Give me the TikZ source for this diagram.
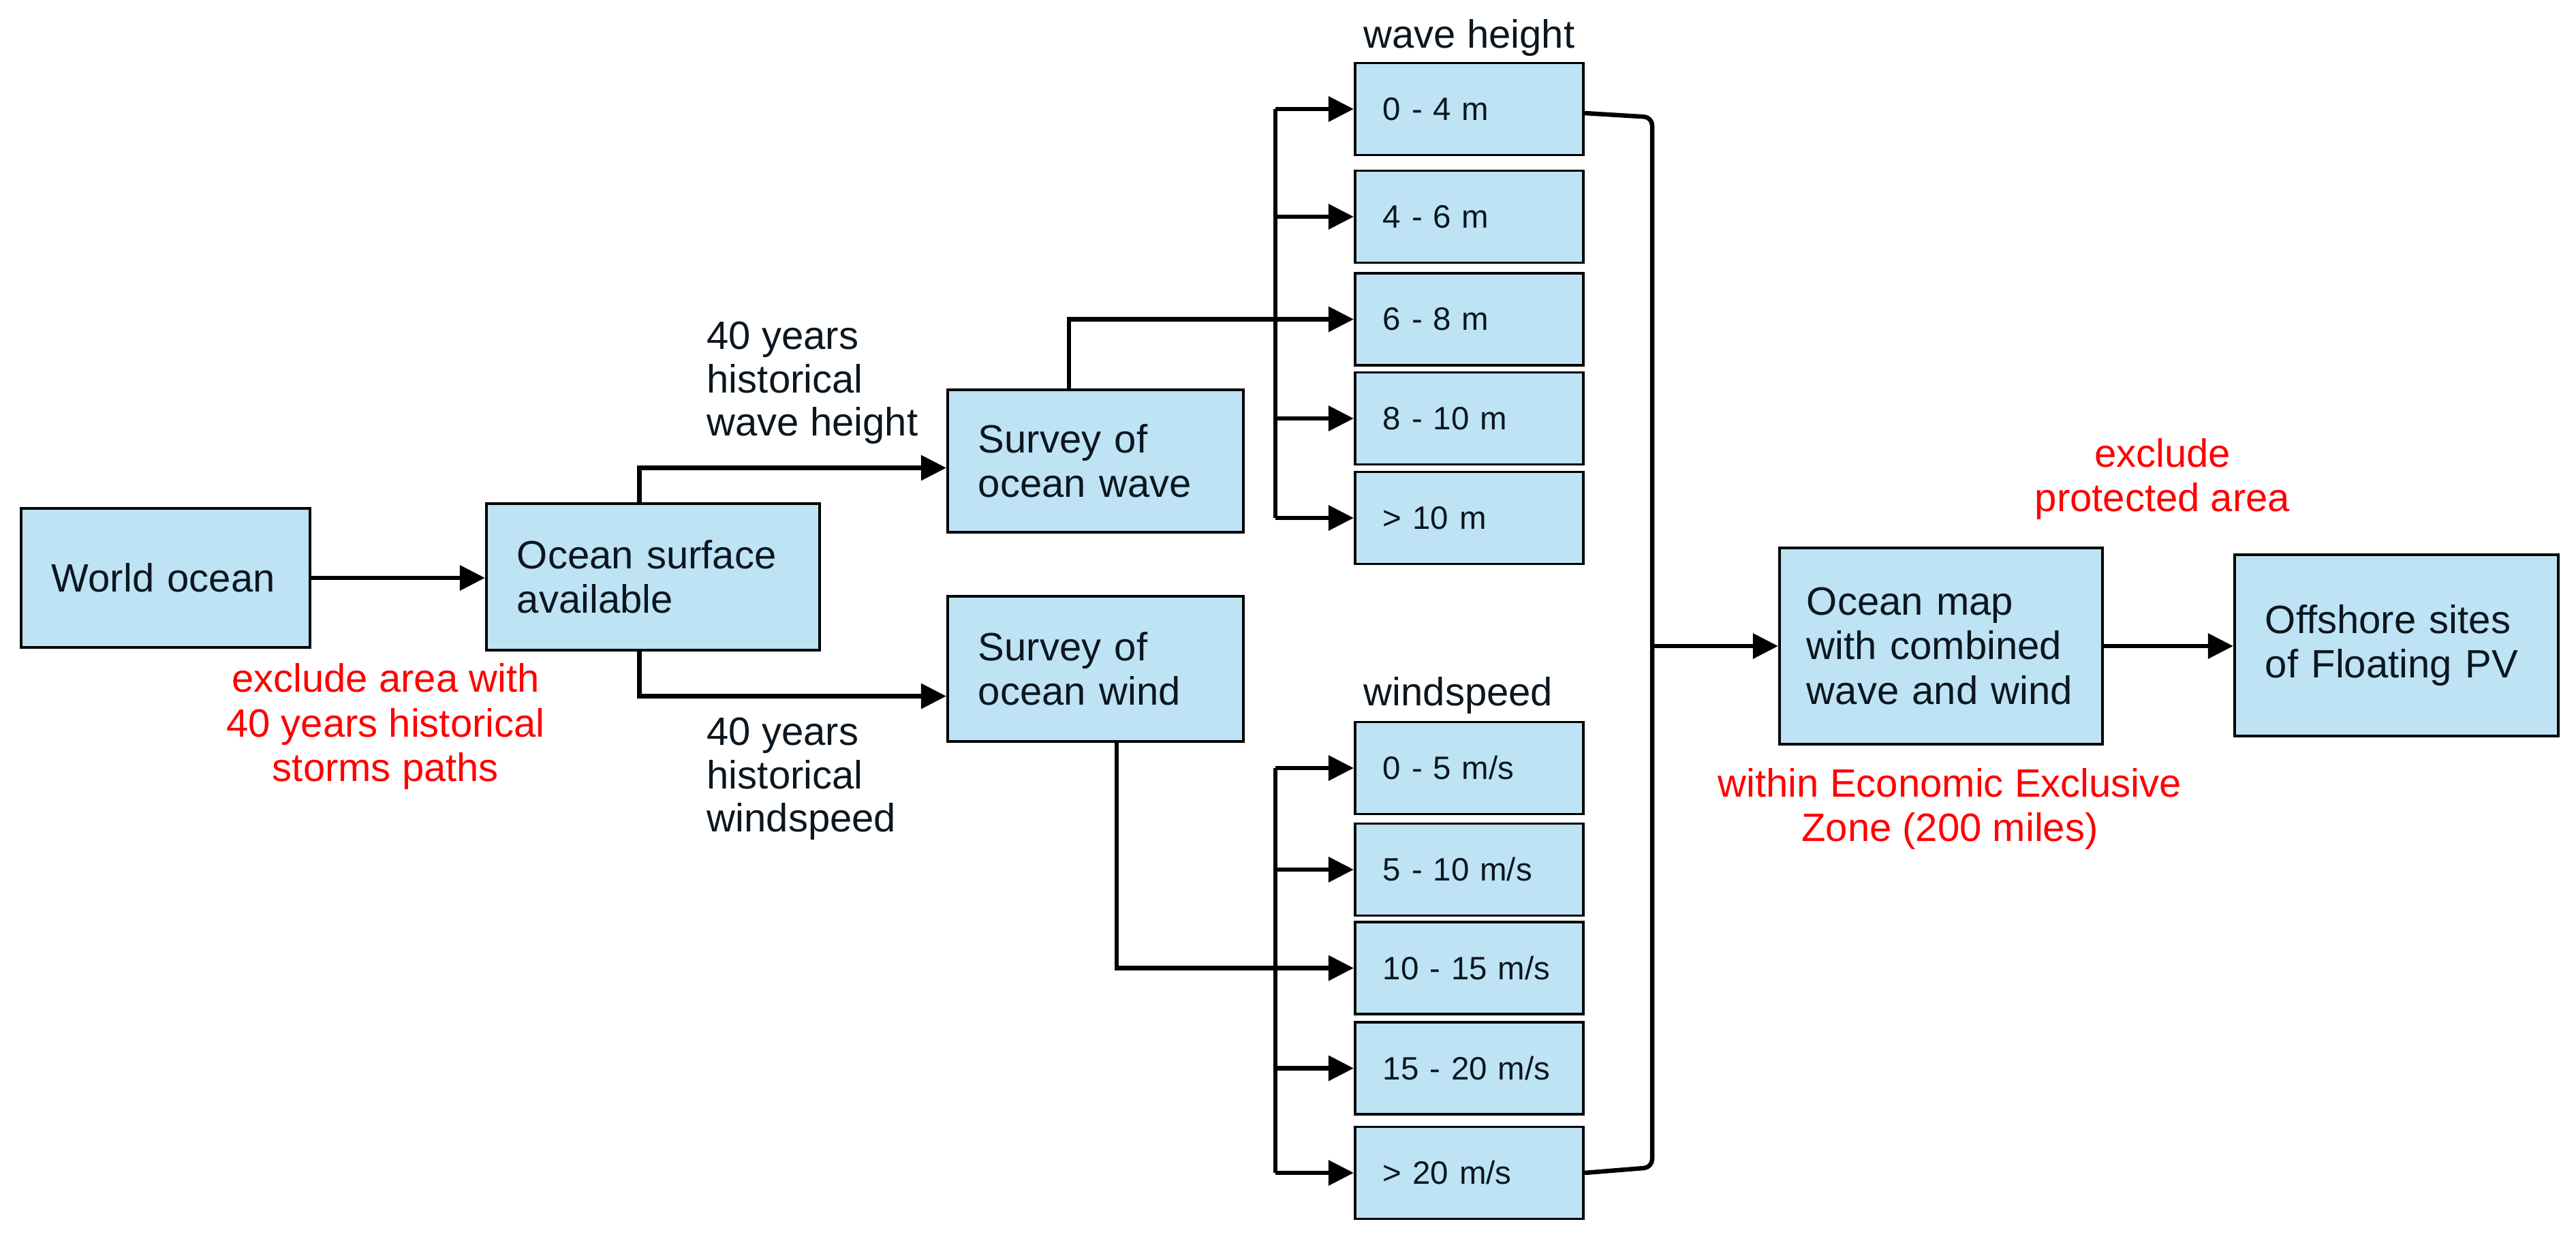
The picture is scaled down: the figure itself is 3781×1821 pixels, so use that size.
\documentclass[tikz,border=0pt]{standalone}
\usepackage{fontspec}
\setmainfont{Liberation Sans}
\usetikzlibrary{arrows.meta,calc}
\definecolor{boxblue}{RGB}{189,227,245}
\definecolor{txt}{RGB}{12,22,30}
\begin{document}
\begin{tikzpicture}[x=0.01cm,y=-0.01cm,
  bigbox/.style 2 args={draw=black, line width=1.1pt, fill=boxblue, text=txt,
    inner xsep=0.45cm, inner ysep=0pt, text width=#1, minimum height=#2,
    align=left, font=\fontsize{16.5}{18.5}\selectfont},
  smallbox/.style={draw=black, line width=1.1pt, fill=boxblue, text=txt,
    inner xsep=0.41cm, inner ysep=0pt, text width=2.53cm, minimum height=1.35cm,
    align=left, font=\fontsize{13.5}{16}\selectfont},
  lbl/.style={inner sep=0pt, align=left, text=txt, font=\fontsize{16.5}{18}\selectfont},
  note/.style={inner sep=0pt, align=center, text=red, font=\fontsize{16.5}{18.5}\selectfont},
  conn/.style={line width=1.85pt, line cap=butt},
  arr/.style={conn, -{Triangle[length=0.37cm,width=0.36cm]}}]
\useasboundingbox (0,0) rectangle (3781,1821);

% main boxes
\node[bigbox={3.34cm}{2.04cm}] (wo) at (243,848) {World ocean};
\node[bigbox={3.99cm}{2.15cm}] (os) at (958.5,846.5) {Ocean surface\\available};
\node[bigbox={3.44cm}{2.09cm}] (sw) at (1608,676.5) {Survey of\\ocean wave};
\node[bigbox={3.44cm}{2.13cm}] (sd) at (1608,981.5) {Survey of\\ocean wind};
\node[bigbox={3.94cm}{2.88cm}, inner xsep=0.40cm] (map) at (2849,948) {Ocean map\\with combined\\wave and wind};
\node[bigbox={3.85cm}{2.66cm}] (off) at (3517.5,947) {Offshore sites\\of Floating PV};

% wave height boxes
\node[smallbox] (h1) at (2156.5,160) {0 - 4 m};
\node[smallbox] (h2) at (2156.5,318) {4 - 6 m};
\node[smallbox] (h3) at (2156.5,468.5) {6 - 8 m};
\node[smallbox] (h4) at (2156.5,614) {8 - 10 m};
\node[smallbox] (h5) at (2156.5,760) {> 10 m};

% windspeed boxes
\node[smallbox] (w1) at (2156.5,1127) {0 - 5 m/s};
\node[smallbox] (w2) at (2156.5,1276) {5 - 10 m/s};
\node[smallbox] (w3) at (2156.5,1420.5) {10 - 15 m/s};
\node[smallbox] (w4) at (2156.5,1567.5) {15 - 20 m/s};
\node[smallbox] (w5) at (2156.5,1721) {> 20 m/s};

% labels
\node[lbl, anchor=west] (lwh) at (2001,55) {wave height};
\node[lbl, anchor=west] (lws) at (2001,1020) {windspeed};
\node[lbl, anchor=west] (lhw) at (1037,562) {40 years\\historical\\wave height};
\node[lbl, anchor=west] (lhs) at (1037,1143) {40 years\\historical\\windspeed};
\node[note] (n1) at (566,1066) {exclude area with\\40 years historical\\storms paths};
\node[note] (n2) at (3174,703) {exclude\\protected area};
\node[note] (n3) at (2862,1187) {within Economic Exclusive\\Zone (200 miles)};

% bus coordinates
\coordinate (bus) at (1872,0);
\coordinate (rc) at (2425,0);

% connectors
\draw[arr] (wo.east) -- (wo.east -| os.west);
\draw[arr] ([xshift=-0.2cm]os.north) |- ([yshift=-0.1cm]sw.west);
\draw[arr] ([xshift=-0.2cm]os.south) |- ([yshift=-0.4cm]sd.west);
\draw[arr] ([xshift=-0.39cm]sw.north) |- (h3.west);
\draw[arr] ([xshift=0.31cm]sd.south) |- (w3.west);

\draw[conn] (bus |- h1.west) -- (bus |- h5.west);
\foreach \n in {h1,h2,h4,h5} \draw[arr] (bus |- \n.west) -- (\n.west);
\draw[conn] (bus |- w1.west) -- (bus |- w5.west);
\foreach \n in {w1,w2,w4,w5} \draw[arr] (bus |- \n.west) -- (\n.west);

\draw[conn, rounded corners=0.12cm] ($(h1.east)+(0,6)$) -- ($(rc |- h1.east)+(0,12)$)
  -- ($(rc |- w5.east)+(0,-8)$) -- (w5.east);
\draw[arr] (rc |- map.west) -- (map.west);
\draw[arr] (map.east) -- (map.east -| off.west);
\end{tikzpicture}
\end{document}
